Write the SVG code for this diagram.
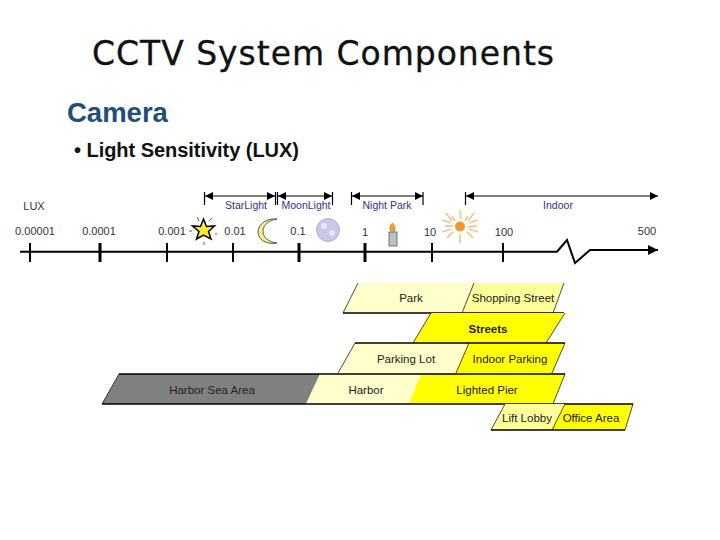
<svg xmlns="http://www.w3.org/2000/svg" width="720" height="540" viewBox="0 0 720 540">
<style>
.sans{font-family:"Liberation Sans",Arial,sans-serif}
.tick{font-size:11px;fill:#333;text-anchor:middle}
.band{font-size:10.5px;fill:#33337f;text-anchor:middle}
.lab{font-size:11.5px;fill:#222;text-anchor:middle}
.light{fill:#ffffcc}.mid{fill:#ffff99}.yellow{fill:#ffff00}.gray{fill:#808080}
.hl{stroke:#000;stroke-width:1.4;fill:none}
.side{stroke:#000;stroke-width:.7;fill:none}
.axis{stroke:#000;fill:none;stroke-width:2}
.thick{stroke:#000;fill:none;stroke-width:3}
.br{stroke:#000;stroke-width:1.2;fill:none}
</style>
<defs>
<marker id="ah" markerWidth="10" markerHeight="10" refX="8" refY="4" orient="auto-start-reverse" markerUnits="userSpaceOnUse"><path d="M0 0L8 4L0 8Z" fill="#000"/></marker>
<marker id="big" markerWidth="12" markerHeight="12" refX="10" refY="5" orient="auto" markerUnits="userSpaceOnUse"><path d="M0 0L10 5L0 10Z" fill="#000"/></marker>
</defs>
<text x="92" y="65" font-family="'DejaVu Sans',Verdana,sans-serif" font-size="33" fill="#111" stroke="#111" stroke-width=".3" textLength="462" lengthAdjust="spacing">CCTV System Components</text>
<text x="67" y="122" class="sans" font-size="27.500" font-weight="bold" fill="#1f4e79">Camera</text>
<text x="74" y="157" class="sans" font-size="20" font-weight="bold" fill="#111" textLength="225">• Light Sensitivity (LUX)</text>

<g id="connectors">
<path class="axis" d="M20 251.700H557L567 240L575 263L590 250H658" marker-end="url(#big)"/>
<path class="axis" d="M30 243V262M167 243V262M233 243V262M432 243V262M503 243V262"/>
<path class="thick" d="M100 243V262M299 243V262M365 243V262"/>
<path class="br" d="M204.500 192V205M275.500 192V205M277.500 192V205M332.500 192V205M351.500 192V205M423 192V205M465.500 192V205"/>
<path class="br" d="M205 196H275" marker-start="url(#ah)" marker-end="url(#ah)"/>
<path class="br" d="M278 196H332" marker-start="url(#ah)" marker-end="url(#ah)"/>
<path class="br" d="M352 196H423" marker-start="url(#ah)" marker-end="url(#ah)"/>
<path class="br" d="M466 196H658" marker-start="url(#ah)" marker-end="url(#ah)"/>
</g>

<g id="axis-labels" class="sans">
<text x="34" y="210" class="tick" font-size="11.500">LUX</text>
<text x="35" y="235" class="tick">0.00001</text>
<text x="99" y="235" class="tick">0.0001</text>
<text x="172" y="235" class="tick">0.001</text>
<text x="235" y="235" class="tick">0.01</text>
<text x="298" y="235" class="tick">0.1</text>
<text x="365" y="236" class="tick">1</text>
<text x="430" y="236" class="tick">10</text>
<text x="504" y="236" class="tick">100</text>
<text x="647" y="235" class="tick">500</text>
<text x="246" y="208.500" class="band">StarLight</text>
<text x="306" y="208.500" class="band">MoonLight</text>
<text x="387" y="208.500" class="band">Night Park</text>
<text x="558" y="208.500" class="band">Indoor</text>
</g>

<g id="star-icon">
<path d="M203.500 219L206.500 226.500L214.500 226L208.500 231.500L211 239L203.500 235L196.500 239L199 231.500L192.500 226L200.500 226.500Z" fill="#ffee22" stroke="#000" stroke-width="1.500"/>
<path d="M197 217L199 221M212 218L209 221M217 234H215M204 245V242M189 231H192" stroke="#333" stroke-width=".8"/>
</g>
<g id="moon-icon"><path d="M277 219C264 218 258 226 258 232C258 240 267 245 277 243C269 242 263 238 263 231C263 225 269 220 277 219Z" fill="#f5ee90" stroke="#333" stroke-width=".8"/></g>
<g id="full-moon-icon"><circle cx="328" cy="230" r="11.500" fill="#c8c8ef" stroke="#aab" stroke-width=".8"/><circle cx="324" cy="226" r="3" fill="#e8e8fa"/><circle cx="332" cy="233" r="3" fill="#e8e8fa"/></g>
<g id="candle-icon"><rect x="389" y="232" width="8" height="14" fill="#b8c4c4" stroke="#556" stroke-width=".8"/><path d="M392 232C388 229 390 225 392.500 223C395 226 396 229 394 232Z" fill="#f2a030" stroke="#a60" stroke-width=".5"/></g>
<g id="sun-icon"><path d="M460 210L461 219M446 213L452 221M474 213L468 221M445 226L453 226M477 226L468 227M447 238L453 232M473 238L467 232M460 243L460 234M452 216L455 221M468 216L465 221M442 220L451 223M478 220L469 223M442 232L451 229M478 232L469 229" stroke="#f0c898" stroke-width="1.800" fill="none"/><circle cx="460" cy="226.500" r="5" fill="#f5962a"/></g>

<g id="row-park" class="sans">
<path class="light" d="M358 283H474L462 313H343Z"/><path class="mid" d="M474 283H564L553 313H462Z"/>
<path class="side" d="M358 283L343 313M474 283L462 313M564 283L553 313"/><path class="hl" d="M343 313H564"/>
<text x="411" y="302" class="lab">Park</text><text x="513" y="302" class="lab">Shopping Street</text>
</g>
<g id="row-streets" class="sans">
<path class="yellow" d="M431 313H565L546 343H413Z"/><path class="side" d="M431 313L413 343M565 313L546 343"/>
<text x="488" y="333" class="lab" font-weight="bold">Streets</text>
</g>
<g id="row-parking" class="sans">
<path class="light" d="M355 343H469L456 373H338Z"/><path class="yellow" d="M469 343H565L552 373H456Z"/>
<path class="side" d="M355 343L338 373M469 343L456 373M565 343L552 373"/><path class="hl" d="M355 343H565"/>
<text x="406" y="363" class="lab">Parking Lot</text><text x="510" y="363" class="lab">Indoor Parking</text>
</g>
<g id="row-harbor" class="sans">
<path class="gray" d="M119 374H320L306 404H102Z"/><path class="light" d="M320 374H421L409 404H306Z"/><path class="yellow" d="M421 374H565L553 404H409Z"/>
<path class="side" d="M119 374L102 404M565 374L553 404"/><path class="hl" d="M119 374H565M102 404H565"/>
<text x="212" y="394" class="lab">Harbor Sea Area</text><text x="366" y="394" class="lab">Harbor</text><text x="487" y="394" class="lab">Lighted Pier</text>
</g>
<g id="row-lobby" class="sans">
<path class="mid" d="M505 404H565L552 430H491Z"/><path class="yellow" d="M565 404H633L625 430H552Z"/>
<path class="side" d="M505 404L491 430M565 404L552 430M633 404L625 430"/><path class="hl" d="M565 404H633M491 430H625"/>
<text x="527" y="422" class="lab">Lift Lobby</text><text x="591" y="422" class="lab">Office Area</text>
</g>
</svg>
